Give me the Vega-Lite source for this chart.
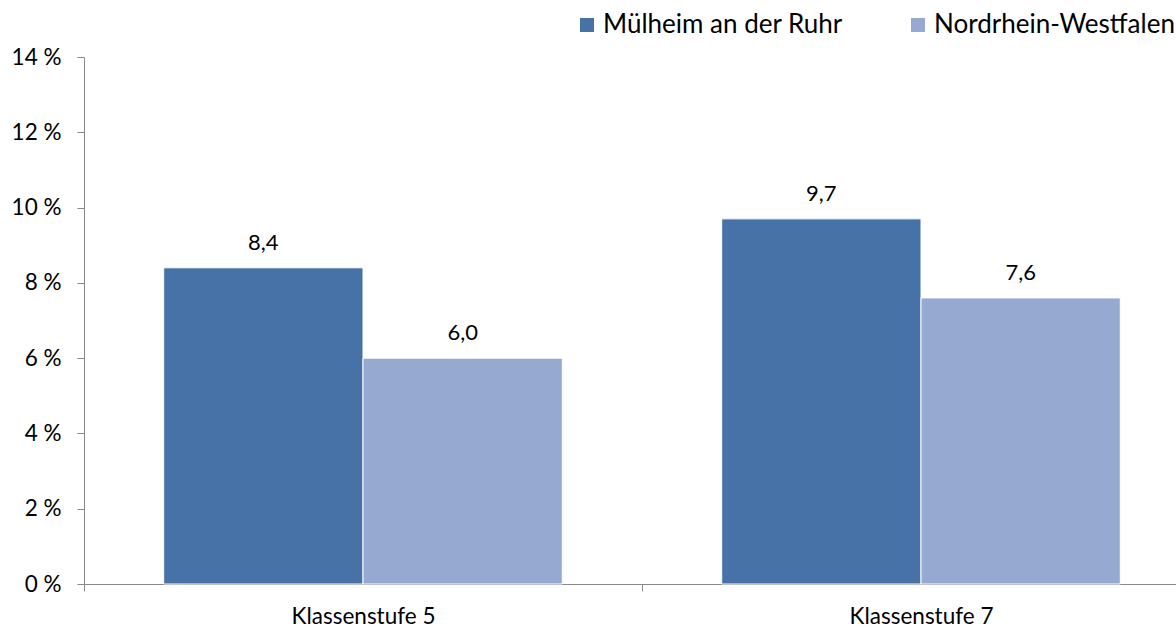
{
  "$schema": "https://vega.github.io/schema/vega-lite/v6.json",
  "autosize": {"type": "none"},
  "padding": {"left": 84, "top": 57, "right": 0, "bottom": 43},
  "width": 1092,
  "height": 527,
  "background": "white",
  "config": {
    "locale": {"number": {"decimal": ",", "thousands": ".", "grouping": [3], "currency": ["", " €"]}},
    "view": {"stroke": null},
    "font": "Lato"
  },
  "data": {
    "values": [
      {"stufe": "Klassenstufe 5", "region": "Mülheim an der Ruhr", "wert": 8.4},
      {"stufe": "Klassenstufe 5", "region": "Nordrhein-Westfalen", "wert": 6.0},
      {"stufe": "Klassenstufe 7", "region": "Mülheim an der Ruhr", "wert": 9.7},
      {"stufe": "Klassenstufe 7", "region": "Nordrhein-Westfalen", "wert": 7.6}
    ]
  },
  "encoding": {
    "x": {
      "field": "stufe", "type": "nominal", "title": null,
      "scale": {"paddingInner": 0, "paddingOuter": 0, "range": [0, 1116]},
      "axis": {
        "labelAngle": 0, "labelFontSize": 22.5, "labelColor": "#000000", "labelPadding": 14,
        "tickBand": "extent", "tickSize": 7, "tickColor": "#898989", "domainColor": "#898989",
        "labelFont": "Lato"
      }
    },
    "xOffset": {
      "field": "region", "type": "nominal",
      "scale": {"paddingInner": 0, "paddingOuter": 0.4}
    },
    "y": {
      "field": "wert", "type": "quantitative", "title": null,
      "scale": {"domain": [0, 14]},
      "axis": {
        "values": [0, 2, 4, 6, 8, 10, 12, 14], "grid": false,
        "labelExpr": "datum.value + ' %'", "labelFontSize": 22.5, "labelColor": "#000000",
        "labelPadding": 16, "tickSize": 7, "tickColor": "#898989", "domainColor": "#898989",
        "labelFont": "Lato"
      }
    }
  },
  "layer": [
    {
      "mark": {"type": "bar", "stroke": "#ffffff", "strokeWidth": 1},
      "encoding": {
        "color": {
          "field": "region", "type": "nominal", "title": null,
          "scale": {"domain": ["Mülheim an der Ruhr", "Nordrhein-Westfalen"], "range": ["#4672A7", "#95A9D1"]},
          "legend": {
            "orient": "none", "direction": "horizontal", "legendX": 490, "legendY": -45,
            "symbolType": "square", "symbolSize": 196, "symbolStrokeWidth": 0, "symbolOpacity": 1,
            "labelFontSize": 26, "labelColor": "#000000", "labelFont": "Lato",
            "columnPadding": 62, "labelOffset": 3, "labelLimit": 400
          }
        }
      }
    },
    {
      "mark": {"type": "text", "dy": -18, "baseline": "alphabetic", "fontSize": 22, "color": "#000000", "font": "Lato"},
      "encoding": {
        "text": {"field": "wert", "type": "quantitative", "format": ".1f"}
      }
    }
  ]
}
